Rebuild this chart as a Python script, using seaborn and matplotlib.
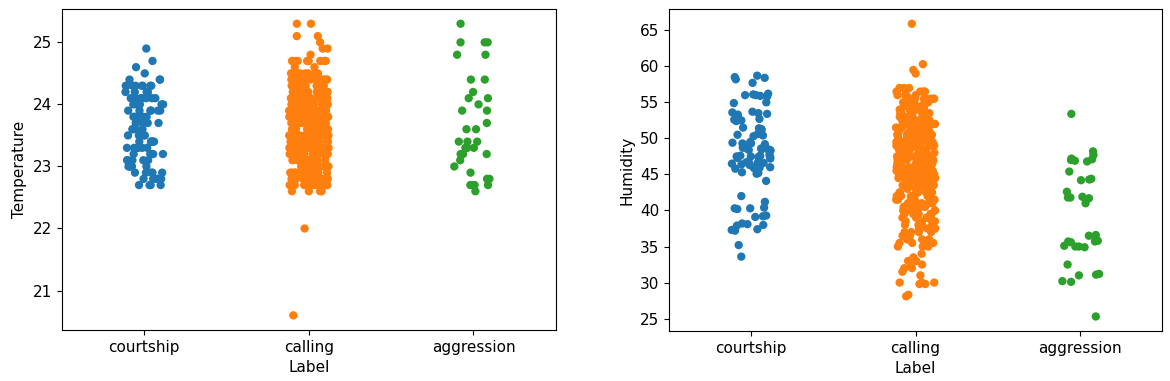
import numpy as np
import pandas as pd
import matplotlib
matplotlib.use("Agg")
import matplotlib.pyplot as plt
import seaborn as sns

labels = ["courtship", "calling", "aggression"]

# Temperature (with counts per value)
temp_courtship_vals = [24.9, 24.7, 24.6, 24.5, 24.4, 24.3, 24.2, 24.1, 24.0, 23.9, 23.8,
                       23.7, 23.6, 23.5, 23.4, 23.3, 23.2, 23.1, 23.0, 22.9, 22.8, 22.7]
temp_courtship_cnt = [1, 1, 1, 1, 3, 8, 4, 7, 5, 6, 6, 5, 4, 4, 6, 6, 5, 5, 5, 5, 6, 4]

temp_calling_vals = [25.3, 25.1, 25.0, 24.9, 24.8, 24.7, 24.6, 24.5, 24.4, 24.3, 24.2, 24.1,
                     24.0, 23.9, 23.8, 23.7, 23.6, 23.5, 23.4, 23.3, 23.2, 23.1, 23.0,
                     22.9, 22.8, 22.7, 22.6, 22.0, 20.6]
temp_calling_cnt = [2, 2, 1, 2, 1, 10, 2, 8, 12, 15, 18, 20, 22, 24, 25, 25, 24, 22, 20, 18,
                    16, 15, 14, 12, 12, 14, 4, 1, 1]

temp_aggression_vals = [25.3, 25.0, 24.8, 24.4, 24.2, 24.1, 24.0, 23.9, 23.7, 23.6, 23.4,
                        23.3, 23.2, 23.1, 23.0, 22.9, 22.8, 22.7, 22.6]
temp_aggression_cnt = [1, 3, 2, 2, 1, 2, 1, 2, 1, 2, 3, 4, 3, 1, 1, 1, 2, 4, 1]

# Humidity
hum_courtship = [58.7, 58.5, 58.4, 58.2, 57.7, 56.2, 56.1, 56.0, 55.9, 55.8, 56.0, 54.9, 55.0,
                 53.6, 53.5, 53.4, 53.3, 53.7, 52.7, 52.6, 52.5, 52.6, 52.8, 52.4,
                 51.5, 51.3, 51.4, 51.2, 50.6, 50.4, 50.5, 50.3,
                 49.4, 49.3, 49.2, 49.5, 49.1, 49.3, 48.6, 48.5, 48.4, 48.6, 48.3, 48.5, 48.7, 48.4,
                 47.6, 47.5, 47.4, 47.5, 47.3, 47.7, 47.6, 47.4, 47.5, 47.2,
                 46.7, 46.6, 46.5, 46.6, 46.4, 46.8, 46.6, 46.3,
                 45.9, 46.0, 45.8, 45.9, 45.2, 45.1, 45.3, 44.1, 42.0, 41.2,
                 40.3, 40.2, 40.4, 40.3, 39.2, 39.1, 39.3, 38.0, 38.1, 37.9, 38.2,
                 37.3, 37.4, 37.2, 35.2, 33.6]

hum_calling_vals = [65.9, 60.3, 59.5, 59.0,
                    57.0, 56.5, 56.0, 55.5, 55.0, 54.5, 54.0, 53.5, 53.0, 52.5, 52.0, 51.5,
                    51.0, 50.5, 50.0, 49.5, 49.0, 48.5, 48.0, 47.5, 47.0, 46.5, 46.0, 45.5,
                    45.0, 44.5, 44.0, 43.5, 43.0, 42.5, 42.0, 41.5, 41.0, 40.5, 40.0, 39.5,
                    39.0, 38.5, 38.0, 37.5, 37.0, 36.5, 36.0, 35.5, 35.0,
                    34.0, 33.5, 33.0, 32.5, 32.0, 31.5, 31.0, 30.0, 29.8, 28.3, 28.1]
hum_calling_cnt = [1, 1, 1, 1,
                   3, 4, 6, 7, 7, 7, 7, 7, 8, 8, 8, 8,
                   9, 9, 9, 10, 10, 11, 11, 12, 12, 12, 12, 11,
                   11, 9, 9, 8, 8, 7, 7, 7, 6, 6, 6, 6,
                   5, 5, 5, 5, 4, 4, 4, 4, 3,
                   1, 1, 2, 2, 2, 1, 1, 3, 2, 1, 1]

hum_aggression = [53.4, 48.2, 47.7, 47.1, 47.0, 46.9, 47.2, 46.8, 45.4, 44.3, 44.4, 44.2,
                  42.6, 41.8, 41.9, 41.7, 41.8, 41.0, 36.6, 36.5, 35.7, 35.8, 35.6, 35.7,
                  35.9, 35.0, 35.1, 34.9, 35.0, 32.5, 31.1, 31.0, 31.2, 30.1, 30.2, 25.3]

temp_df = pd.DataFrame({
    "Label": ["courtship"] * sum(temp_courtship_cnt) + ["calling"] * sum(temp_calling_cnt)
             + ["aggression"] * sum(temp_aggression_cnt),
    "Temperature": np.concatenate([np.repeat(temp_courtship_vals, temp_courtship_cnt),
                                   np.repeat(temp_calling_vals, temp_calling_cnt),
                                   np.repeat(temp_aggression_vals, temp_aggression_cnt)]),
})

hum_df = pd.DataFrame({
    "Label": ["courtship"] * len(hum_courtship) + ["calling"] * sum(hum_calling_cnt)
             + ["aggression"] * len(hum_aggression),
    "Humidity": np.concatenate([hum_courtship,
                                np.repeat(hum_calling_vals, hum_calling_cnt),
                                hum_aggression]),
})

np.random.seed(3)
fig = plt.figure(figsize=(11.7, 3.81), dpi=100)
ax1 = fig.add_axes([0.053, 0.134, 0.422, 0.842])
ax2 = fig.add_axes([0.572, 0.131, 0.421, 0.845])

sns.stripplot(data=temp_df, x="Label", y="Temperature", hue="Label", order=labels,
              hue_order=labels, jitter=0.12, size=6, legend=False, ax=ax1)
sns.stripplot(data=hum_df, x="Label", y="Humidity", hue="Label", order=labels,
              hue_order=labels, jitter=0.12, size=6, legend=False, ax=ax2)

for ax in (ax1, ax2):
    ax.tick_params(labelsize=11)
    ax.xaxis.label.set_size(11)
    ax.yaxis.label.set_size(11)

fig.savefig("out.png", dpi=100)
